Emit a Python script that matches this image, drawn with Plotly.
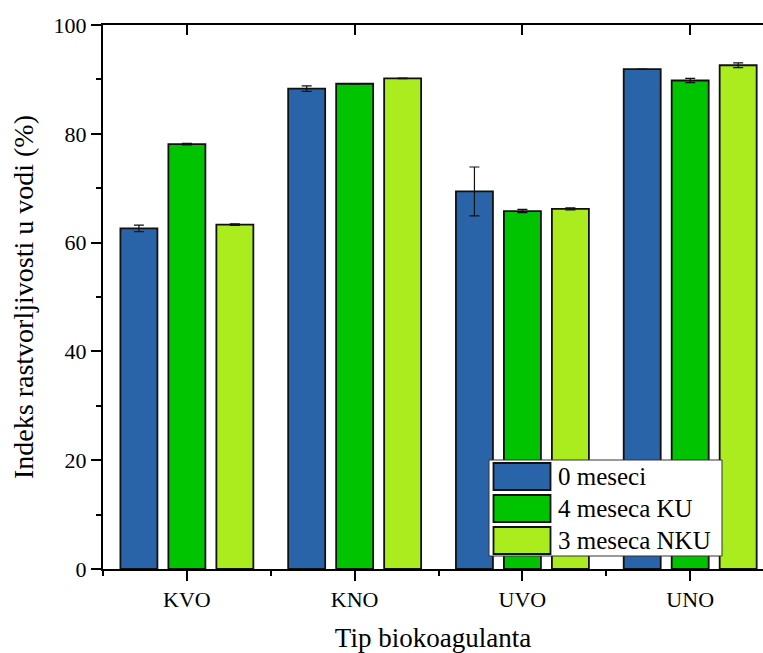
import plotly.graph_objects as go

# Water solubility index of biocoagulants (%), mean and standard deviation
categories = ["KVO", "KNO", "UVO", "UNO"]
series_names = ["0 meseci", "4 meseca KU", "3 meseca NKU"]
series_colors = ["#2A64A8", "#00C400", "#AAEC1E"]

values_0m = [62.6, 88.3, 69.4, 91.9]
errors_0m = [0.6, 0.5, 4.5, 0.0]
values_4m_ku = [78.1, 89.2, 65.8, 89.8]
errors_4m_ku = [0.15, 0.05, 0.3, 0.4]
values_3m_nku = [63.3, 90.2, 66.2, 92.6]
errors_3m_nku = [0.15, 0.05, 0.2, 0.45]

y_ticks = [0, 20, 40, 60, 80, 100]

series_values = [values_0m, values_4m_ku, values_3m_nku]
series_errors = [errors_0m, errors_4m_ku, errors_3m_nku]

FONT = "Liberation Serif"
W, H = 763, 653
ML, MR, MT, MB = 103, 0, 25, 84
PW, PH = W - ML - MR, H - MT - MB

x_pos = list(range(len(categories)))
x_range = [-0.5, 3.434]

fig = go.Figure()
for name, vals, errs, col in zip(series_names, series_values, series_errors, series_colors):
    fig.add_trace(go.Bar(
        x=x_pos, y=vals, name=name,
        marker=dict(color=col, line=dict(color="#111111", width=1.8)),
        error_y=dict(type="data", array=errs, visible=True,
                     color="#111111", thickness=1.2, width=5),
        showlegend=False,
    ))

# invisible anchor for the top mirror axis
fig.add_trace(go.Scatter(x=[x_pos[0]], y=[0], xaxis="x2", mode="markers",
                         marker=dict(opacity=0), hoverinfo="skip", showlegend=False))

fig.update_layout(
    width=W, height=H,
    margin=dict(l=ML, r=MR, t=MT, b=MB),
    paper_bgcolor="white", plot_bgcolor="white",
    barmode="group", bargap=0.142, bargroupgap=0.229,
    font=dict(family=FONT, color="black", size=22),
    xaxis=dict(
        range=x_range, tickmode="array", tickvals=x_pos, ticktext=categories,
        ticks="outside", ticklen=10, tickwidth=2, tickcolor="black",
        showline=True, linewidth=2, linecolor="black", mirror=False,
        showgrid=False, zeroline=False,
        tickfont=dict(size=22, family=FONT, color="black"),
        minor=dict(tick0=-0.5, dtick=1, ticks="outside", ticklen=5,
                   tickwidth=2, tickcolor="black", showgrid=False),
        title=dict(text="Tip biokoagulanta",
                   font=dict(size=27, family=FONT, color="black"), standoff=21),
    ),
    xaxis2=dict(
        overlaying="x", side="top", range=x_range, tickmode="array",
        tickvals=x_pos, showticklabels=False, ticks="inside", ticklen=10,
        tickwidth=2, tickcolor="black", showline=True, linewidth=2,
        linecolor="black", showgrid=False, zeroline=False,
    ),
    yaxis=dict(
        range=[0, 100], tickmode="array", tickvals=y_ticks,
        ticks="outside", ticklen=10, tickwidth=2, tickcolor="black",
        showline=True, linewidth=2, linecolor="black", mirror=False,
        showgrid=False, zeroline=False,
        tickfont=dict(size=22, family=FONT, color="black"),
        minor=dict(tick0=0, dtick=10, ticks="outside", ticklen=5,
                   tickwidth=2, tickcolor="black", showgrid=False),
        title=dict(text="Indeks rastvorljivosti u vodi (%)",
                   font=dict(size=28, family=FONT, color="black"), standoff=12),
    ),
)

# legend box drawn in pixel units converted to paper fractions
def px_x(px):
    return (px - ML) / PW

def px_y(py):
    return (H - MB - py) / PH

shapes = [dict(type="rect", xref="paper", yref="paper",
               x0=px_x(489), x1=px_x(722), y0=px_y(556), y1=px_y(460),
               fillcolor="white", line=dict(color="#333333", width=1), layer="above")]
row_tops = [463, 495, 527]
for i, (name, col) in enumerate(zip(series_names, series_colors)):
    top = row_tops[i]
    shapes.append(dict(type="rect", xref="paper", yref="paper",
                       x0=px_x(493.5), x1=px_x(550.5), y0=px_y(top + 27), y1=px_y(top),
                       fillcolor=col, line=dict(color="#111111", width=1.8), layer="above"))
    fig.add_annotation(xref="paper", yref="paper", x=px_x(556), y=px_y(top + 13.5),
                       text=name, showarrow=False, xanchor="left", yanchor="middle",
                       font=dict(size=25, family=FONT, color="black"))
fig.update_layout(shapes=shapes)

fig.write_html("out.html")
